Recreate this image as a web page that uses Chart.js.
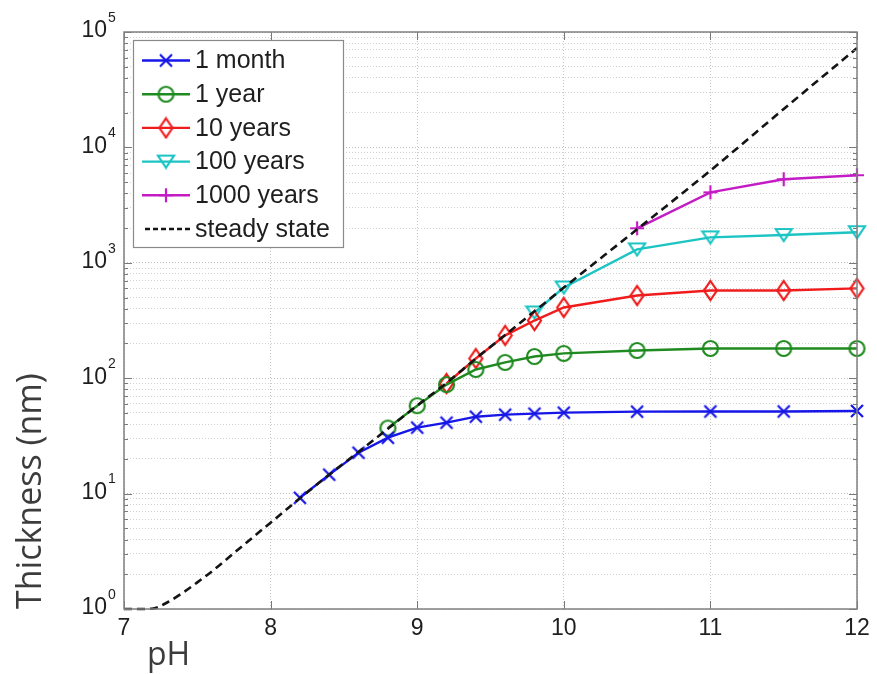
<!DOCTYPE html>
<html><head><meta charset="utf-8">
<script src="https://cdn.jsdelivr.net/npm/chart.js@4.4.0/dist/chart.umd.min.js"></script>
<style>html,body{margin:0;padding:0;background:#fff;}#wrap{width:877px;height:674px;position:relative;}</style>
</head><body><div id="wrap"><canvas id="c" width="877" height="674"></canvas></div>
<script>
// ---------- data ----------
const seriesNames = ['1 month', '1 year', '10 years', '100 years', '1000 years', 'steady state'];
const phMonth = [8.2, 8.4, 8.6, 8.8, 9.0, 9.2, 9.4, 9.6, 9.8, 10, 10.5, 11, 11.5, 12];
const thickMonth = [9.2, 14.6, 22.6, 30.5, 37.3, 41.2, 46.4, 48.3, 49.3, 50.3, 51.3, 51.5, 51.5, 52];
const phYear = [8.8, 9.0, 9.2, 9.4, 9.6, 9.8, 10, 10.5, 11, 11.5, 12];
const thickYear = [37, 57.8, 88, 119, 137, 154, 164, 174, 181, 181, 181];
const phTen = [9.2, 9.4, 9.6, 9.8, 10, 10.5, 11, 11.5, 12];
const thickTen = [90, 148, 235, 316, 410, 521, 576, 576, 600];
const phHundred = [9.8, 10, 10.5, 11, 11.5, 12];
const thickHundred = [371, 611, 1307, 1660, 1740, 1840];
const phThousand = [10.5, 11, 11.5, 12];
const thickThousand = [1990, 4080, 5300, 5740];
const phSteady = [7.0, 7.1, 7.2, 7.3, 7.4, 7.5, 7.6, 7.7, 7.8, 7.9, 8.0, 8.2, 8.4, 8.6, 8.8, 9.0, 9.2, 9.4, 9.6, 9.8, 10.0, 10.5, 11, 11.5, 12];
const thickSteady = [1, 1, 1.01, 1.15, 1.38, 1.7, 2.12, 2.7, 3.45, 4.4, 5.6, 9.1, 14.6, 23, 36.5, 58, 91, 148, 237, 380, 610, 1950, 6300, 21500, 72600];
const xTicks = [7, 8, 9, 10, 11, 12];
const yDecades = [0, 1, 2, 3, 4, 5];
const xTitle = 'pH';
const yTitle = 'Thickness (nm)';

// ---------- styles ----------
const COL = {blue: '#1616e8', green: '#1f8a1f', red: '#f01c1c', cyan: '#1cc4c4', magenta: '#c41cc4', black: '#141414'};
function mk(w, h, draw) { const c = document.createElement('canvas'); c.width = w; c.height = h; const g = c.getContext('2d'); g.lineWidth = 2.2; draw(g, w, h); return c; }
const mkX = mk(16, 16, g => { g.strokeStyle = COL.blue; g.beginPath(); g.moveTo(2, 2); g.lineTo(14, 14); g.moveTo(14, 2); g.lineTo(2, 14); g.stroke(); });
const mkO = mk(19, 19, g => { g.strokeStyle = COL.green; g.beginPath(); g.arc(9.5, 9.5, 7.5, 0, Math.PI * 2); g.stroke(); });
const mkD = mk(17, 23, g => { g.strokeStyle = COL.red; g.beginPath(); g.moveTo(8.5, 2); g.lineTo(15, 11.5); g.lineTo(8.5, 21); g.lineTo(2, 11.5); g.closePath(); g.stroke(); });
const mkV = mk(20, 16, g => { g.strokeStyle = COL.cyan; g.beginPath(); g.moveTo(2, 2); g.lineTo(18, 2); g.lineTo(10, 14); g.closePath(); g.stroke(); });
const mkP = mk(16, 16, g => { g.strokeStyle = COL.magenta; g.beginPath(); g.moveTo(8, 1); g.lineTo(8, 15); g.moveTo(1, 8); g.lineTo(15, 8); g.stroke(); });

function pts(xs, ys) { return xs.map((x, i) => ({x: x, y: ys[i]})); }
function series(label, xs, ys, color, marker) {
  return {label, data: pts(xs, ys), borderColor: color, backgroundColor: color, borderWidth: 2.4,
    pointStyle: marker, pointRadius: 6, tension: 0, order: 1, clip: 10};
}
const datasets = [
  {label: seriesNames[5], data: pts(phSteady, thickSteady), borderColor: COL.black, borderWidth: 2.6,
   borderDash: [8, 5], pointRadius: 0, cubicInterpolationMode: 'monotone', order: 0, clip: 6},
  series(seriesNames[0], phMonth, thickMonth, COL.blue, mkX),
  series(seriesNames[1], phYear, thickYear, COL.green, mkO),
  series(seriesNames[2], phTen, thickTen, COL.red, mkD),
  series(seriesNames[3], phHundred, thickHundred, COL.cyan, mkV),
  series(seriesNames[4], phThousand, thickThousand, COL.magenta, mkP)
];
const legendItems = [
  {name: seriesNames[0], color: COL.blue, marker: mkX},
  {name: seriesNames[1], color: COL.green, marker: mkO},
  {name: seriesNames[2], color: COL.red, marker: mkD},
  {name: seriesNames[3], color: COL.cyan, marker: mkV},
  {name: seriesNames[4], color: COL.magenta, marker: mkP},
  {name: seriesNames[5], color: COL.black, marker: null, dash: [5, 3]}
];

const FONT = '"Liberation Sans", Arial, Helvetica, sans-serif';
const TFONT = '"Open Sans", "Noto Sans", sans-serif';

const decorPlugin = {
  id: 'decor',
  afterDatasetsDraw(chart) {
    const ctx = chart.ctx, a = chart.chartArea, ys = chart.scales.y, xs = chart.scales.x;
    ctx.save();
    // inner tick marks
    ctx.strokeStyle = '#7a7a7a'; ctx.lineWidth = 1;
    ctx.beginPath();
    yDecades.forEach(d => {
      for (let m = 1; m <= 9; m++) {
        if (d === 5 && m > 1) break;
        const y = Math.round(ys.getPixelForValue(m * Math.pow(10, d))) + 0.5;
        const L = m === 1 ? 8 : 4;
        ctx.moveTo(a.left, y); ctx.lineTo(a.left + L, y);
        ctx.moveTo(a.right, y); ctx.lineTo(a.right - L, y);
      }
    });
    xTicks.forEach(v => {
      const x = Math.round(xs.getPixelForValue(v)) + 0.5;
      ctx.moveTo(x, a.bottom); ctx.lineTo(x, a.bottom - 8);
      ctx.moveTo(x, a.top); ctx.lineTo(x, a.top + 8);
    });
    ctx.stroke();
    // box
    ctx.strokeStyle = '#808080'; ctx.lineWidth = 1.5;
    ctx.strokeRect(a.left, a.top, a.right - a.left, a.bottom - a.top);

    // legend
    const lx = a.left + 9, ly = a.top + 8, lw = 210, lh = 207;
    ctx.fillStyle = '#fff'; ctx.fillRect(lx, ly, lw, lh);
    ctx.strokeStyle = '#8a8a8a'; ctx.lineWidth = 1.2; ctx.strokeRect(lx + 0.5, ly + 0.5, lw, lh);
    ctx.font = '25px ' + FONT; ctx.textBaseline = 'middle'; ctx.textAlign = 'left';
    legendItems.forEach((it, i) => {
      const y = ly + 20.5 + i * 33.7;
      ctx.save();
      ctx.strokeStyle = it.color; ctx.lineWidth = it.marker ? 2.4 : 2.6;
      if (it.dash) ctx.setLineDash(it.dash);
      ctx.beginPath(); ctx.moveTo(lx + (it.dash ? 12 : 9), y); ctx.lineTo(lx + 57, y); ctx.stroke();
      ctx.restore();
      if (it.marker) ctx.drawImage(it.marker, lx + 33 - it.marker.width / 2, y - it.marker.height / 2);
      ctx.fillStyle = '#1e1e1e';
      ctx.fillText(it.name, lx + 62, y + 1);
    });
    ctx.restore();
  },
  afterDraw(chart) {
    const ctx = chart.ctx, a = chart.chartArea, ys = chart.scales.y;
    ctx.save();
    ctx.fillStyle = '#1e1e1e';
    yDecades.forEach(d => {
      const y = ys.getPixelForValue(Math.pow(10, d));
      ctx.font = '23px ' + FONT; ctx.textAlign = 'right'; ctx.textBaseline = 'middle';
      ctx.fillText('10', a.left - 17, y - 1);
      ctx.font = '14px ' + FONT; ctx.textAlign = 'left';
      ctx.fillText(String(d), a.left - 16, y - 14);
    });
    // axis titles
    ctx.fillStyle = '#3c3c3c';
    ctx.font = '32px ' + TFONT; ctx.textAlign = 'left'; ctx.textBaseline = 'alphabetic';
    ctx.fillText(xTitle, a.left + 23, 665);
    ctx.font = '34px ' + TFONT;
    ctx.translate(41, a.bottom);
    ctx.rotate(-Math.PI / 2);
    ctx.fillText(yTitle, 0, 0);
    ctx.restore();
  }
};

function isDecade(v) { const l = Math.log10(v); return Math.abs(l - Math.round(l)) < 1e-6; }

new Chart(document.getElementById('c'), {
  type: 'line',
  data: {datasets},
  plugins: [decorPlugin],
  options: {
    responsive: false, animation: false, events: [], devicePixelRatio: 1,
    layout: {padding: {left: 0, top: 32, right: 20, bottom: 0}},
    plugins: {legend: {display: false}, tooltip: {enabled: false}},
    scales: {
      x: {
        type: 'linear', min: 7, max: 12,
        afterBuildTicks: s => { s.ticks = xTicks.map(v => ({value: v})); },
        afterFit: s => { s.height = 65; },
        ticks: {font: {family: FONT, size: 23}, color: '#1e1e1e', padding: 6, autoSkip: false, maxRotation: 0},
        grid: {color: '#c4c4c4', drawTicks: false, lineWidth: 1},
        border: {display: false, dash: [1, 2]}
      },
      y: {
        type: 'logarithmic', min: 1, max: 100000,
        afterBuildTicks: s => {
          const t = [];
          yDecades.forEach(d => { for (let m = 1; m <= 9; m++) { if (d === 5 && m > 1) break; t.push({value: m * Math.pow(10, d)}); } });
          s.ticks = t;
        },
        afterFit: s => { s.width = 124; },
        ticks: {display: false},
        grid: {color: c => (c.tick && isDecade(c.tick.value)) ? '#c0c0c0' : '#d0d0d0', drawTicks: false, lineWidth: 1},
        border: {display: false, dash: [1, 2]}
      }
    }
  }
});
</script>
</body></html>
